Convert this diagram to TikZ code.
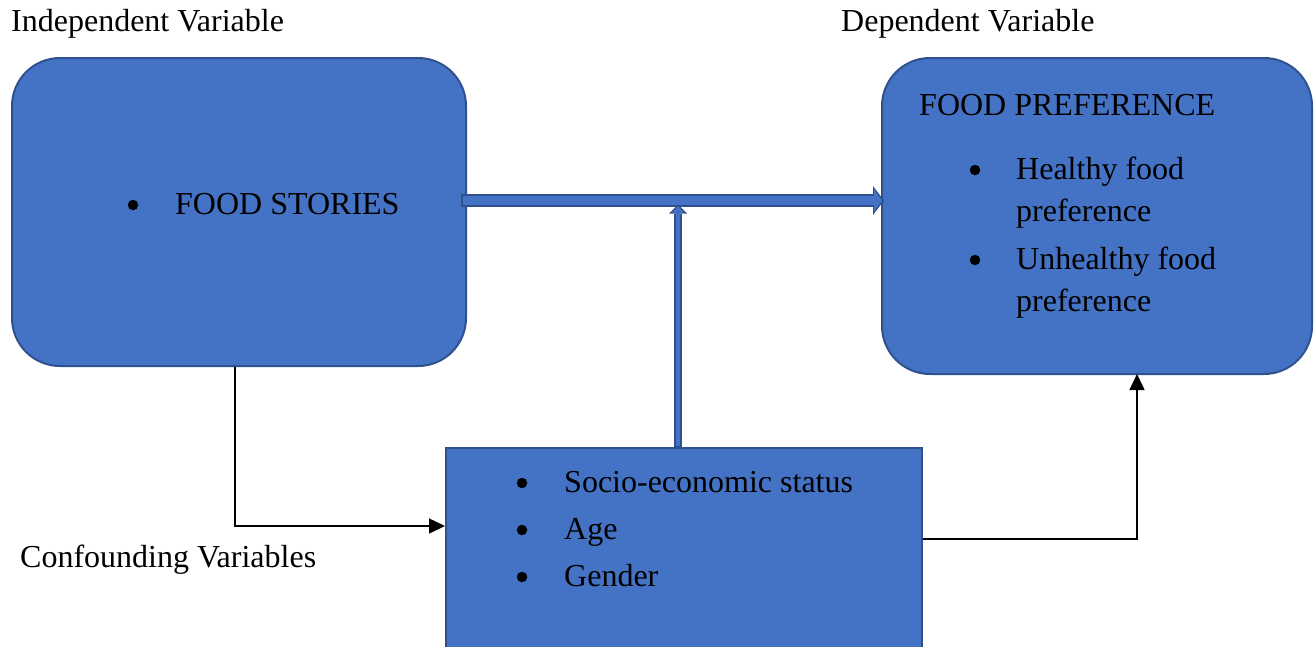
\documentclass[tikz,border=0pt]{standalone}
\usepackage{fontspec}
\setmainfont{Liberation Serif}
\usetikzlibrary{arrows.meta,positioning,calc}
\definecolor{boxblue}{RGB}{68,114,196}
\definecolor{edgeblue}{RGB}{47,82,143}

\begin{document}
\begin{tikzpicture}[
  x=1pt, y=-1pt,
  every node/.style={font=\fontsize{32}{42}\selectfont, inner sep=0pt},
  roundbox/.style={rectangle, rounded corners=48pt, draw=edgeblue, fill=boxblue, line width=2pt},
  flatbox/.style={rectangle, draw=edgeblue, fill=boxblue, line width=2pt},
  txt/.style={anchor=base west},
  dot/.style={circle, fill=black, minimum size=10.5pt},
  thinarrow/.style={-{Triangle[length=16pt,width=15pt]}, line width=1.5pt, black},
  fatarrow/.style={edgeblue, line width=13pt, -{Triangle[length=11pt,width=29pt,line width=0pt]},
    postaction={draw=boxblue, line width=9pt, shorten >=2pt, shorten <=2pt, -{Triangle[length=8pt,width=23pt,line width=0pt]}}},
  slimarrow/.style={edgeblue, line width=8pt, -{Triangle[length=9pt,width=18pt,line width=0pt]},
    postaction={draw=boxblue, line width=4pt, shorten >=2pt, shorten <=1pt, -{Triangle[length=6pt,width=12pt,line width=0pt]}}}
]
\useasboundingbox (0,0) rectangle (1316,646);
\clip (0,0) rectangle (1316,646);

% Headings
\node[txt] (indeplbl) at (11,31) {Independent Variable};
\node[txt] (deplbl) at (841,31) {Dependent Variable};
\node[txt] (conflbl) at (20,567) {Confounding Variables};

% Boxes
\node[roundbox, minimum width=454pt, minimum height=308pt] (stories) at (239,212) {};
\node[roundbox, minimum width=430pt, minimum height=316pt] (pref) at (1097,216) {};
\node[flatbox, minimum width=476pt, minimum height=222pt] (cvars) at (684,559) {};

% Independent variable
\node[dot] (storiesdot) at (133,205) {};
\node[txt] (storiestxt) at (175,214) {FOOD STORIES};

% Dependent variable
\node[txt] (preftitle) at (919,115) {FOOD PREFERENCE};
\node[dot] (healthydot) at (975,170) {};
\node[txt] (healthya) at (1016,179) {Healthy food};
\node[txt] (healthyb) at (1016,221) {preference};
\node[dot] (unhealthydot) at (975,260) {};
\node[txt] (unhealthya) at (1016,269) {Unhealthy food};
\node[txt] (unhealthyb) at (1016,311) {preference};

% Confounding variables
\node[dot] (sesdot) at (522,483) {};
\node[txt] (sestxt) at (564,492) {Socio-economic status};
\node[dot] (agedot) at (522,530) {};
\node[txt] (agetxt) at (564,539) {Age};
\node[dot] (genderdot) at (522,577) {};
\node[txt] (gendertxt) at (564,586) {Gender};

% Arrows
\coordinate (fromS) at ($(stories.east)+(-6,-11.5)$);
\coordinate (toP) at ($(pref.west)+(3,-15.5)$);
\coordinate (joint) at ($(fromS -| cvars.north)+(-6,4)$);
\draw[fatarrow] (fromS) -- (toP);
\draw[slimarrow] ($(cvars.north)+(-6,0)$) -- (joint);
\draw[thinarrow] ($(stories.south)+(-4,0)$) |- ($(cvars.west)+(0,-33)$);
\draw[thinarrow] ($(cvars.east)+(0,-20)$) -| ($(pref.south)+(40,-1)$);

\end{tikzpicture}
\end{document}
